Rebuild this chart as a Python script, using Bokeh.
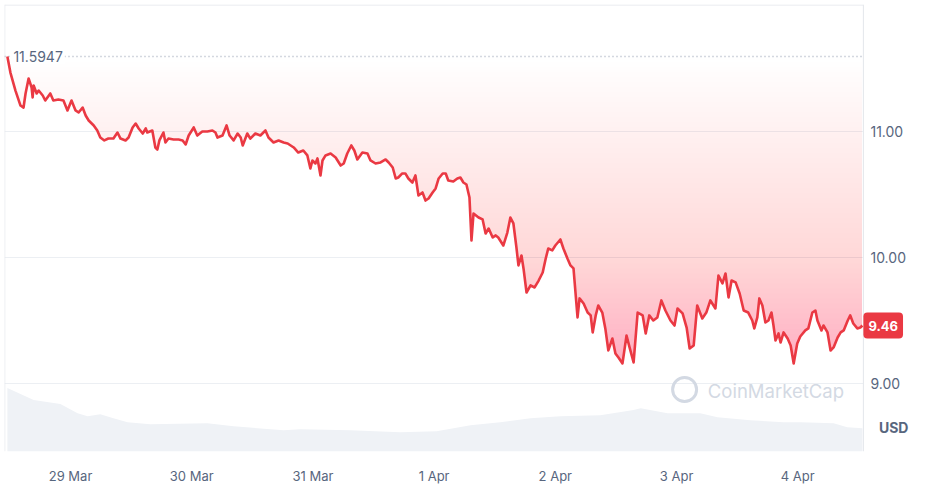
import numpy as np
from bokeh.plotting import figure
from bokeh.models import Range1d, FixedTicker, Label
from bokeh.embed import file_html
from bokeh.resources import INLINE
from bokeh.core.properties import value

# ---- data (hours from 29 Mar 00:00, price in USD) ----
hours = [-12.5, -11.9, -10.9, -9.9, -9.3, -8.9, -8.3, -7.7, -7.5, -7.3, -6.7, -6.3, -5.5, -5.0, -4.0,
         -3.4, -2.4, -1.4, -0.6, 0.2, 1.0, 1.6, 2.4, 3.0, 3.6, 4.6, 5.3, 5.9, 6.7, 7.5, 8.5, 9.3, 9.9,
         10.9, 11.5, 12.3, 12.9, 13.5, 14.3, 14.9, 15.2, 16.2, 16.8, 17.2, 17.6, 18.4, 18.8, 19.4, 20.4,
         21.4, 22.2, 22.8, 23.4, 24.4, 25.1, 26.1, 27.1, 28.1, 28.7, 29.1, 30.1, 30.9, 31.5, 32.3, 33.1,
         33.7, 34.1, 35.0, 35.6, 36.6, 37.6, 38.6, 39.2, 40.2, 41.2, 42.2, 43.0, 43.6, 44.2, 45.1, 46.1,
         46.9, 47.5, 47.9, 48.5, 48.9, 49.5, 49.9, 50.5, 51.5, 52.5, 53.5, 54.1, 54.8, 55.6, 56.2, 56.8,
         57.8, 58.8, 59.4, 60.4, 61.4, 62.4, 63.0, 63.8, 64.4, 64.9, 65.7, 66.3, 66.9, 67.7, 68.3, 68.9,
         69.7, 70.3, 70.9, 71.7, 72.3, 72.9, 73.7, 74.3, 74.8, 75.8, 76.6, 77.2, 77.8, 78.4, 79.0, 79.4,
         79.8, 80.8, 81.6, 82.2, 82.8, 83.6, 84.2, 84.7, 85.7, 86.5, 87.1, 87.7, 88.3, 88.7, 89.3, 89.7,
         90.3, 91.1, 91.9, 92.7, 93.5, 94.1, 94.6, 95.4, 96.0, 97.0, 97.6, 98.4, 99.0, 99.6, 100.4, 100.8,
         101.6, 102.4, 103.0, 103.4, 104.0, 104.5, 105.3, 105.9, 106.5, 107.3, 107.9, 108.5, 109.3, 110.1,
         110.7, 111.5, 112.3, 113.3, 113.9, 114.6, 115.4, 116.2, 117.0, 117.8, 118.8, 119.6, 120.2, 121.2,
         122.0, 122.6, 123.4, 124.1, 125.1, 125.9, 126.7, 127.7, 128.3, 129.1, 129.7, 130.3, 130.9, 131.7,
         132.5, 133.3, 134.2, 135.0, 135.4, 136.0, 136.4, 137.0, 137.6, 138.2, 138.8, 139.2, 139.6, 140.2,
         140.6, 141.2, 142.0, 142.6, 143.2, 143.9, 144.5, 145.5, 146.1, 146.9, 147.5, 147.9, 148.7, 149.1,
         149.9, 150.5, 151.1, 151.9, 152.5, 153.1, 153.9, 154.4, 155.0, 155.8, 156.4, 156.8]
price = [11.5947, 11.468, 11.325, 11.206, 11.190, 11.302, 11.421, 11.349, 11.270, 11.365, 11.302, 11.325,
         11.286, 11.246, 11.302, 11.246, 11.254, 11.246, 11.167, 11.246, 11.167, 11.151, 11.190, 11.127,
         11.087, 11.048, 11.008, 10.952, 10.929, 10.944, 10.944, 10.992, 10.944, 10.929, 10.952, 11.032,
         11.063, 11.024, 10.984, 11.024, 10.992, 11.008, 10.873, 10.857, 10.929, 10.992, 10.913, 10.944,
         10.937, 10.937, 10.929, 10.897, 10.968, 11.032, 10.968, 11.000, 11.000, 11.008, 10.992, 10.952,
         10.968, 11.048, 10.968, 10.929, 10.984, 10.952, 10.889, 10.984, 10.944, 10.984, 10.968, 11.008,
         10.952, 10.913, 10.929, 10.913, 10.905, 10.889, 10.873, 10.833, 10.849, 10.810, 10.706, 10.770,
         10.746, 10.786, 10.651, 10.770, 10.810, 10.825, 10.794, 10.730, 10.746, 10.825, 10.889, 10.849,
         10.778, 10.833, 10.825, 10.770, 10.746, 10.754, 10.778, 10.754, 10.714, 10.627, 10.635, 10.667,
         10.667, 10.627, 10.595, 10.651, 10.492, 10.516, 10.452, 10.468, 10.516, 10.548, 10.627, 10.667,
         10.667, 10.611, 10.603, 10.627, 10.635, 10.595, 10.579, 10.476, 10.135, 10.349, 10.317, 10.302,
         10.190, 10.230, 10.159, 10.175, 10.159, 10.095, 10.198, 10.317, 10.270, 10.079, 9.937, 10.016,
         9.913, 9.722, 9.778, 9.762, 9.817, 9.881, 9.992, 10.071, 10.056, 10.095, 10.143, 10.071, 9.992,
         9.937, 9.913, 9.524, 9.675, 9.635, 9.563, 9.540, 9.405, 9.540, 9.619, 9.563, 9.437, 9.262, 9.357,
         9.238, 9.206, 9.159, 9.381, 9.286, 9.167, 9.563, 9.540, 9.397, 9.540, 9.500, 9.524, 9.659, 9.579,
         9.500, 9.460, 9.595, 9.556, 9.444, 9.278, 9.302, 9.619, 9.516, 9.563, 9.659, 9.595, 9.857, 9.794,
         9.873, 9.683, 9.817, 9.802, 9.714, 9.579, 9.563, 9.500, 9.437, 9.524, 9.675, 9.619, 9.484, 9.500,
         9.563, 9.460, 9.341, 9.397, 9.325, 9.405, 9.357, 9.302, 9.159, 9.317, 9.373, 9.421, 9.437, 9.563,
         9.579, 9.500, 9.421, 9.460, 9.405, 9.262, 9.286, 9.365, 9.405, 9.421, 9.500, 9.540, 9.476, 9.437,
         9.444, 9.46]

vol_hours = [-12.5, -7.3, -2.0, 1.4, 3.4, 5.9, 8.5, 11.3, 15.8, 27.1, 32.3, 42.2, 45.5, 55.4, 65.3, 72.5,
             79.2, 85.1, 91.1, 97.0, 104.9, 111.5, 112.9, 118.2, 124.7, 128.1, 134.6, 141.2, 144.5, 151.1,
             153.8, 156.8]
volume_m = [99.6, 80.6, 74.3, 60.0, 55.3, 58.5, 52.1, 45.8, 42.7, 44.2, 39.5, 33.2, 34.8, 33.2, 30.0, 31.6,
            41.1, 45.8, 52.1, 55.3, 56.9, 64.8, 67.9, 60.0, 60.0, 53.7, 49.0, 45.8, 45.8, 44.2, 37.9, 36.3]

tick_hours = [0, 24, 48, 72, 96, 120, 144]
tick_labels = ["29 Mar", "30 Mar", "31 Mar", "1 Apr", "2 Apr", "3 Apr", "4 Apr"]
price_ticks = [9, 10, 11]
price_tick_labels = ["9.00", "10.00", "11.00"]
open_price = 11.5947
last_price = 9.46
currency = "USD"
watermark = "CoinMarketCap"

RED = "#ea3943"
GREY_TXT = "#58667e"
FONT = "Inter"

X0, X_PLOT_END, X1 = -13.07, 157.0, 169.3   # frame start, chart area end, figure end (hours)
Y0, Y1 = 8.46, 12.008

p = figure(width=925, height=490, output_backend="svg", toolbar_location=None,
           x_range=Range1d(X0, X1), y_range=Range1d(Y0, Y1),
           y_axis_location=None, min_border_left=4, min_border_top=4,
           min_border_right=0, min_border_bottom=39,
           background_fill_color="white", border_fill_color="white")
p.outline_line_color = None
p.grid.visible = False

p.extra_y_ranges = {"vol": Range1d(0, 700)}

# volume area
p.varea(x=vol_hours, y1=np.zeros(len(volume_m)), y2=volume_m, y_range_name="vol",
        fill_color="#eff2f6", fill_alpha=1.0)

# horizontal grid lines (only across the chart area)
p.segment(x0=[X0] * len(price_ticks), x1=[X_PLOT_END] * len(price_ticks),
          y0=price_ticks, y1=price_ticks, line_color="#eceff3", line_width=1)

# chart area border (left, top, right)
p.segment(x0=[X0 + 0.05, X0, X_PLOT_END], x1=[X0 + 0.05, X_PLOT_END, X_PLOT_END],
          y0=[Y0, Y1 - 0.004, Y0], y1=[Y1, Y1 - 0.004, Y1],
          line_color="#e3e6eb", line_width=1)

# gradient fill between price line and opening price, built from stacked layers
pr = np.array(price)
levels = np.arange(open_price, Y0, -0.04)
target = lambda d: np.interp(d, [0, 0.59, 1.59, 2.44, 3.2], [0, 0.05, 0.12, 0.24, 0.28])
prev = 0.0
for L in levels[1:]:
    t = target(open_price - L)
    a = 1 - (1 - t) / (1 - prev)
    prev = t
    if a <= 0:
        continue
    y1 = np.minimum(pr, L)
    p.varea(x=hours, y1=y1, y2=np.full_like(y1, L), fill_color=RED, fill_alpha=float(a))

# dotted opening price line across the chart area
p.segment(x0=[X0], x1=[X_PLOT_END], y0=[open_price], y1=[open_price],
          line_color="#a9b1c0", line_dash="1 3", line_width=1.5)

# price line
p.line(hours, price, line_color=RED, line_width=2.6, line_join="round")

# watermark
p.scatter(x=[121.6], y=[8.952], size=24, marker="circle", fill_color=None,
          line_color="#d3d9e3", line_width=3)
p.text(x=[126.2], y=[8.937], text=[watermark], text_font=value(FONT), text_font_size="18.5px",
       text_color="#d3d9e3", text_baseline="middle", text_align="left")

# opening price label
p.add_layout(Label(x=-11.7, y=open_price, text=f"{open_price:.4f}", text_font=FONT,
                   text_font_size="14px", text_color=GREY_TXT, text_baseline="middle",
                   text_align="left", background_fill_color="white", padding=2))

# price scale labels (right side)
p.text(x=[158.4] * len(price_ticks), y=price_ticks, text=price_tick_labels,
       text_font=value(FONT), text_font_size="14px", text_color=GREY_TXT,
       text_baseline="middle", text_align="left")

# last price tag
p.add_layout(Label(x=157.0, y=last_price, text=f"{last_price:.2f}", text_font=FONT,
                   text_font_size="13px", text_font_style="bold", text_color="white",
                   text_baseline="middle", text_align="left",
                   background_fill_color=RED, border_radius=4, padding=(5, 8)))

# currency label
p.text(x=[163.0], y=[8.651], text=[currency], text_font=value(FONT), text_font_size="14px",
       text_font_style="bold", text_color=GREY_TXT, text_baseline="middle", text_align="center")

# x axis
xax = p.xaxis[0]
xax.ticker = FixedTicker(ticks=tick_hours)
xax.major_label_overrides = {h: lab for h, lab in zip(tick_hours, tick_labels)}
xax.axis_line_color = None
xax.major_tick_line_color = None
xax.minor_tick_line_color = None
xax.major_tick_out = 0
xax.major_tick_in = 0
xax.major_label_standoff = 16
xax.major_label_text_font = FONT
xax.major_label_text_font_size = "13px"
xax.major_label_text_color = GREY_TXT

open("out.html", "w").write(file_html(p, INLINE))
